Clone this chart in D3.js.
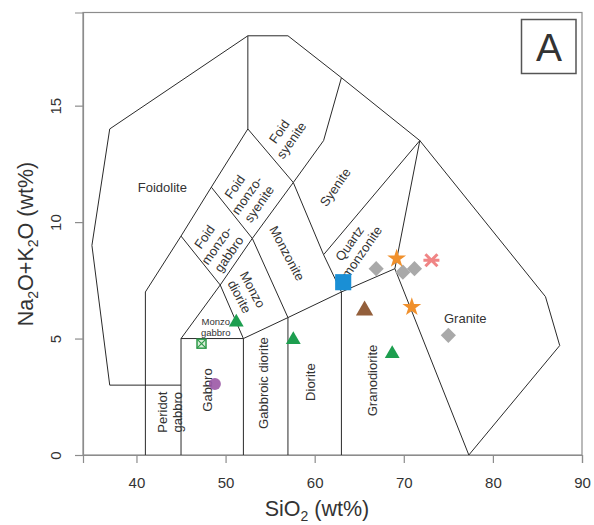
<!DOCTYPE html>
<html>
<head>
<meta charset="utf-8">
<script src="https://cdn.jsdelivr.net/npm/d3@7"></script>
<style>
  body { margin: 0; background: #fff; }
  text { font-family: "Liberation Sans", Arial, sans-serif; fill: #333; }
</style>
</head>
<body>
<div id="chart"></div>
<script>
// TAS plutonic classification (Middlemost) - field boundaries, [SiO2, Na2O+K2O]
const outerBoundary = [[41,0],[41,7],[45,9.4],[48.4,11.5],[52.5,14],[52.5,18],[57,18],[63,16.2],[71.8,13.5],[85.9,6.8],[87.5,4.7],[77.3,0]];
const foidoliteBoundary = [[45,3],[37,3],[35,9],[37,14],[52.5,18]];
const innerBoundaries = [
  [[45,0],[45,5]],
  [[52,0],[52,5]],
  [[57,0],[57,5.9]],
  [[63,0],[63,7]],
  [[45,5],[52,5],[57,5.9],[63,7],[69,8],[77.3,0]],
  [[45,5],[49.4,7.3],[53,9.3],[57.6,11.7],[61,13.5],[63,16.2]],
  [[45,9.4],[49.4,7.3],[52,5]],
  [[48.4,11.5],[53,9.3],[57,5.9]],
  [[52.5,14],[57.6,11.7],[61,8.6],[63,7]],
  [[61,8.6],[71.8,13.5],[69,8]]
];

// field names: [label, SiO2, alkalis, angle]
const fieldLabels = [
  ["Foidolite", 42.9, 11.5, 0],
  ["Foid|monzo-|gabbro", 49.0, 9.0, -55],
  ["Foid|monzo-|syenite", 52.4, 11.15, -55],
  ["Foid|syenite", 56.7, 13.7, -55],
  ["Syenite", 62.3, 11.5, -55],
  ["Quartz|monzonite", 64.6, 8.9, -55],
  ["Monzonite", 56.9, 8.66, 62],
  ["Monzo|diorite", 52.3, 6.95, 62],
  ["Granite", 76.9, 5.88, 0],
  ["Granodiorite", 66.5, 3.2, -90],
  ["Diorite", 59.5, 3.13, -90],
  ["Gabbroic diorite", 54.2, 3.09, -90],
  ["Gabbro", 48.0, 2.79, -90],
  ["Peridot|gabbro", 43.76, 1.84, -90]
];
const smallLabel = ["Monzo|gabbro", 48.9, 5.49];

// samples
const purpleCircle = [[48.8, 3.05]];
const greenCrossSquare = [[47.3, 4.78]];
const greenTriangles = [[51.2, 5.7], [57.6, 4.95], [68.7, 4.35]];
const brownTriangles = [[65.6, 6.2]];
const blueSquares = [[63.2, 7.42]];
const orangeStars = [[69.2, 8.43], [70.9, 6.35]];
const grayDiamonds = [[66.9, 8.0], [69.9, 7.85], [71.2, 8.0], [75.0, 5.14]];
const pinkAsterisks = [[73.1, 8.36]];

const xTicks = [40, 50, 60, 70, 80, 90];
const yTicks = [0, 5, 10, 15];

const width = 594, height = 525;

const svg = d3.select("#chart").append("svg")
  .attr("width", width)
  .attr("height", height);

const x = d3.scaleLinear().domain([34, 90]).range([83, 582]);
const y = d3.scaleLinear().domain([0, 19]).range([455, 12.5]);

const line = d3.line().x(d => x(d[0])).y(d => y(d[1]));

// frame
svg.append("rect")
  .attr("x", x(34)).attr("y", y(19))
  .attr("width", x(90) - x(34)).attr("height", y(0) - y(19))
  .attr("fill", "none").attr("stroke", "#8c8c8c").attr("stroke-width", 1.2);

// axes
const xAxis = svg.append("g")
  .attr("transform", `translate(0,${y(0)})`)
  .call(d3.axisBottom(x).tickValues(xTicks).tickSize(8).tickPadding(14));
const yAxis = svg.append("g")
  .attr("transform", `translate(${x(34)},0)`)
  .call(d3.axisLeft(y).tickValues(yTicks).tickSize(8).tickPadding(0));
[xAxis, yAxis].forEach(a => {
  a.select(".domain").attr("stroke", "#8c8c8c").attr("stroke-width", 1.2);
  a.selectAll(".tick line").attr("stroke", "#8c8c8c").attr("stroke-width", 1.2);
  a.selectAll("text").style("font-size", "15px").attr("fill", "#333");
});
yAxis.selectAll(".tick text")
  .attr("x", 0).attr("dy", null)
  .attr("text-anchor", "middle")
  .attr("transform", "translate(-26,0) rotate(-90)")
  .attr("dominant-baseline", "middle");

// axis titles
svg.append("text")
  .attr("x", 317).attr("y", 516)
  .attr("text-anchor", "middle")
  .style("font-size", "21.5px")
  .html('SiO<tspan dy="5" font-size="14">2</tspan><tspan dy="-5"> (wt%)</tspan>');
svg.append("text")
  .attr("transform", "translate(33,244) rotate(-90)")
  .attr("text-anchor", "middle")
  .style("font-size", "21.5px")
  .html('Na<tspan dy="5" font-size="14">2</tspan><tspan dy="-5">O+K</tspan><tspan dy="5" font-size="14">2</tspan><tspan dy="-5">O (wt%)</tspan>');

// field boundaries
const fields = svg.append("g")
  .attr("fill", "none").attr("stroke", "#2a2a2a").attr("stroke-width", 1);
fields.append("path").attr("d", line(outerBoundary));
fields.append("path").attr("d", line(foidoliteBoundary));
innerBoundaries.forEach(b => fields.append("path").attr("d", line(b)));

// multi-line label helper
function addLabel(g, name, px, py, angle, size) {
  const parts = name.split("|");
  const lh = size * 1.15;
  const t = g.append("text")
    .attr("transform", `translate(${px},${py}) rotate(${angle})`)
    .attr("text-anchor", "middle")
    .style("font-size", size + "px");
  parts.forEach((p, i) => {
    t.append("tspan")
      .attr("x", 0)
      .attr("y", (i - (parts.length - 1) / 2) * lh + size * 0.35)
      .text(p);
  });
}

const labels = svg.append("g");
fieldLabels.forEach(d => addLabel(labels, d[0], x(d[1]), y(d[2]), d[3], 13));
addLabel(labels, smallLabel[0], x(smallLabel[1]), y(smallLabel[2]), 0, 9.5);

// samples
const pts = svg.append("g");

pts.selectAll(".circ").data(purpleCircle).enter().append("circle")
  .attr("cx", d => x(d[0])).attr("cy", d => y(d[1])).attr("r", 6)
  .attr("fill", "#9b58a5").attr("opacity", 0.9);

pts.selectAll(".xsq").data(greenCrossSquare).enter().append("g")
  .attr("transform", d => `translate(${x(d[0])},${y(d[1])})`)
  .each(function () {
    const g = d3.select(this);
    g.append("rect").attr("x", -4.5).attr("y", -4.5).attr("width", 9).attr("height", 9)
      .attr("fill", "#d9eed9").attr("stroke", "#2f9a4a").attr("stroke-width", 1.5);
    g.append("path").attr("d", "M-4.5,-4.5L4.5,4.5M4.5,-4.5L-4.5,4.5")
      .attr("stroke", "#2f9a4a").attr("stroke-width", 1.2);
  });

function symbols(data, type, size, color, rot) {
  pts.selectAll(null).data(data).enter().append("path")
    .attr("d", d3.symbol().type(type).size(size))
    .attr("transform", d => `translate(${x(d[0])},${y(d[1])}) rotate(${rot || 0})`)
    .attr("fill", color);
}

symbols(greenTriangles, d3.symbolTriangle, 95, "#1d9e4f");
symbols(brownTriangles, d3.symbolTriangle, 130, "#935f3b");
symbols(blueSquares, d3.symbolSquare, 260, "#1a8fd5");
symbols(grayDiamonds, d3.symbolSquare, 115, "#a9a9a9", 45);
symbols(orangeStars, d3.symbolStar, 110, "#f0902c");

pts.selectAll(".ast").data(pinkAsterisks).enter().append("path")
  .attr("transform", d => `translate(${x(d[0])},${y(d[1])})`)
  .attr("d", "M-6,-6L6,6M6,-6L-6,6M-8,0L8,0")
  .attr("stroke", "#f08585").attr("stroke-width", 3).attr("fill", "none");

// panel tag
svg.append("rect")
  .attr("x", 521.5).attr("y", 19.5).attr("width", 54.5).attr("height", 54)
  .attr("fill", "#fff").attr("stroke", "#555").attr("stroke-width", 1.5);
svg.append("text")
  .attr("x", 549).attr("y", 60.5)
  .attr("text-anchor", "middle")
  .style("font-size", "39px")
  .text("A");
</script>
</body>
</html>
